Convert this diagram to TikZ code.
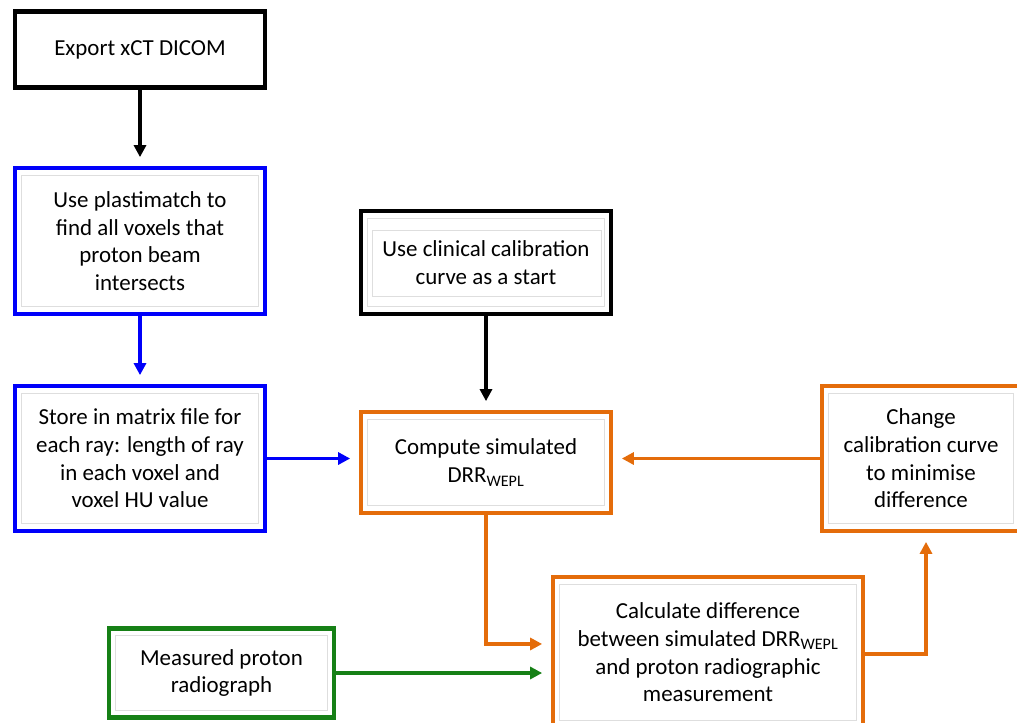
\documentclass[tikz,border=0pt]{standalone}
\usepackage{fontspec}
\setmainfont{Carlito}
\usetikzlibrary{arrows.meta,shadows}

\definecolor{boxblue}{RGB}{0,0,250}
\definecolor{boxorange}{RGB}{228,108,10}
\definecolor{boxgreen}{RGB}{22,128,22}
\definecolor{innergray}{RGB}{222,222,222}

\tikzset{
  box/.style={draw, line width=3.3pt, fill=white, align=center,
    font=\fontsize{17.2}{20.8}\selectfont, inner sep=0pt,
    drop shadow={shadow xshift=1pt, shadow yshift=-1pt, opacity=0.25}},
  conn/.style={line width=2.6pt, -{Triangle[length=9pt,width=9pt]}, shorten >=6.5pt},
  innerframe/.style={draw=innergray, line width=0.6pt}
}

\begin{document}
\begin{tikzpicture}[x=0.75pt,y=-0.75pt]
\clip (0,0) rectangle (1017,722);
\fill[white] (0,0) rectangle (1017,722);

% process boxes
\node[box, draw=black, minimum width=187.5pt, minimum height=57pt] (exp) at (140,49.5) {Export xCT DICOM};
\node[box, draw=boxblue, minimum width=187.5pt, minimum height=109.5pt] (plast) at (140,241)
  {Use plastimatch to\\find all voxels that\\proton beam\\intersects};
\node[box, draw=boxblue, minimum width=187.5pt, minimum height=108.75pt] (store) at (140,458.5)
  {Store in matrix file for\\each ray: length of ray\\in each voxel and\\voxel HU value};
\node[box, draw=black, minimum width=187.5pt, minimum height=77.25pt] (clin) at (486,262.5)
  {Use clinical calibration\\curve as a start};
\node[box, draw=boxorange, minimum width=187.5pt, minimum height=75.75pt] (comp) at (486,462.5)
  {Compute simulated\\DRR\textsubscript{WEPL}};
\node[box, draw=boxorange, minimum width=148.5pt, minimum height=108.75pt] (change) at (921,458.5)
  {Change\\calibration curve\\to minimise\\difference};
\node[box, draw=boxorange, minimum width=232.5pt, minimum height=113.25pt] (calc) at (708,652.5)
  {Calculate difference\\between simulated DRR\textsubscript{WEPL}\\and proton radiographic\\measurement};
\node[box, draw=boxgreen, minimum width=168.75pt, minimum height=66.75pt] (meas) at (221.5,673)
  {Measured proton\\radiograph};

% thin inner frames
\foreach \n in {plast,store,clin,comp,change,calc,meas}
  \draw[innerframe] ([xshift=6.75pt,yshift=-7pt]\n.north west) rectangle ([xshift=-6.75pt,yshift=7pt]\n.south east);
\draw[innerframe] ([xshift=10.5pt,yshift=-16pt]clin.north west) rectangle ([xshift=-9pt,yshift=15pt]clin.south east);

% connectors
\draw[conn, color=black] (exp) -- (plast);
\draw[conn, color=boxblue] (plast) -- (store);
\draw[conn, color=boxblue] (store.east) -- (comp.west |- store.east);
\draw[conn, color=black] (clin) -- (comp);
\draw[conn, color=boxorange] (change.west) -- (comp.east |- change.west);
\draw[conn, color=boxorange] (comp.south) |- ([yshift=6.4pt]calc.west);
\draw[conn, color=boxgreen] (meas.east) -- (meas.east -| calc.west);
\draw[conn, color=boxorange] ([yshift=-1.1pt]calc.east) -| ([xshift=3.75pt]change.south);
\end{tikzpicture}
\end{document}
